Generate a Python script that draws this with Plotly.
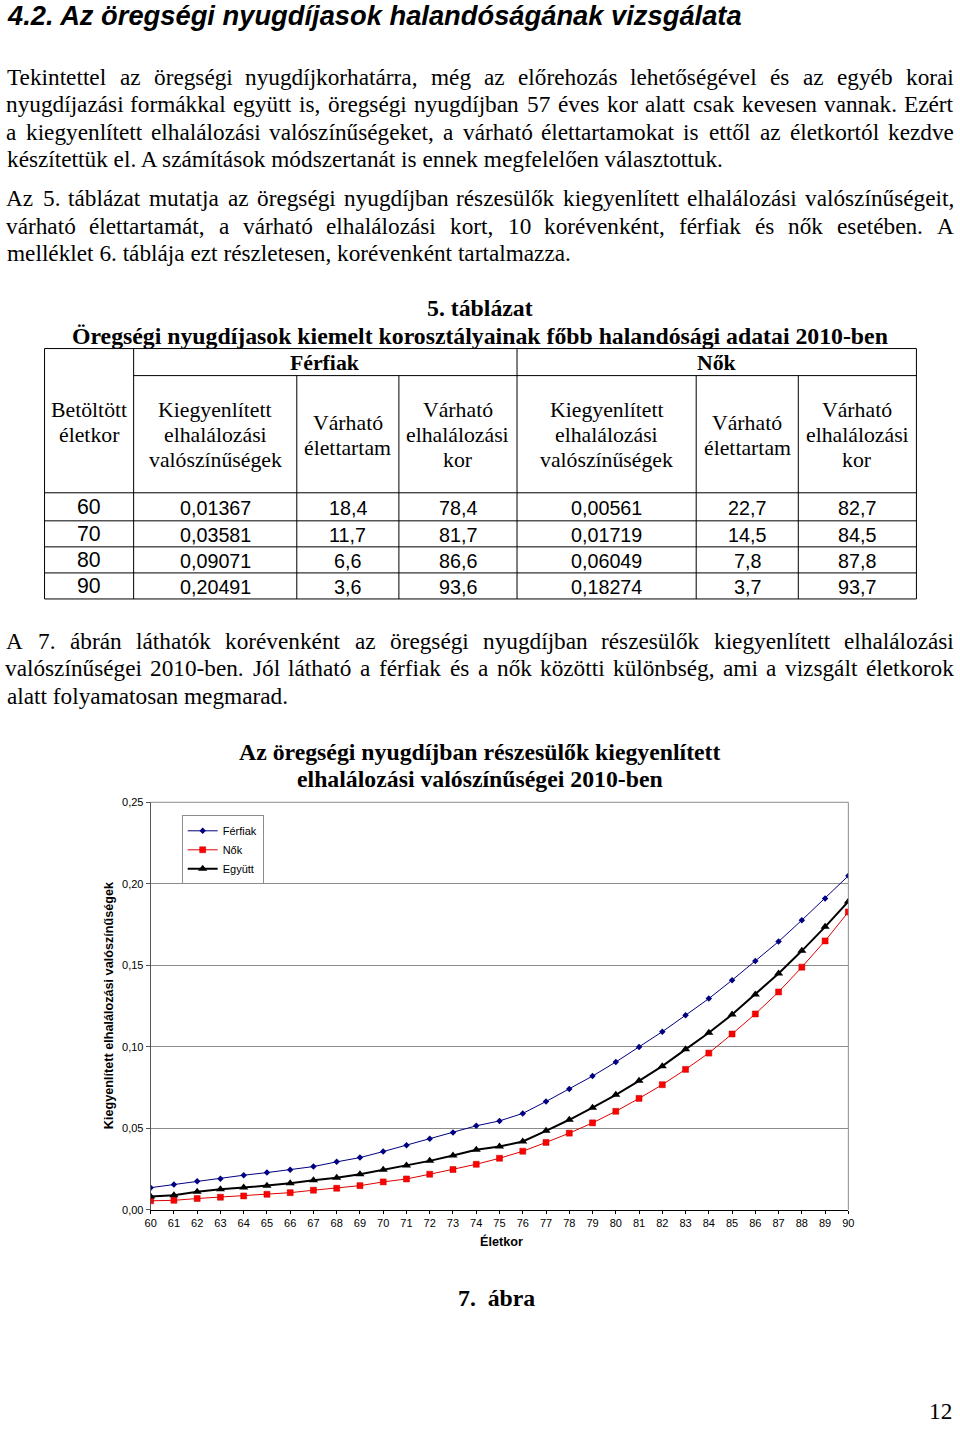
import unicodedata
import plotly.graph_objects as go

# ---------------- data ----------------
ages = [60, 61, 62, 63, 64, 65, 66, 67, 68, 69, 70, 71, 72, 73, 74, 75,
        76, 77, 78, 79, 80, 81, 82, 83, 84, 85, 86, 87, 88, 89, 90]
ferfiak = [0.01367, 0.0156, 0.0176, 0.0192, 0.0213, 0.0229, 0.0246, 0.0266, 0.0295, 0.0321,
           0.03581, 0.0397, 0.0436, 0.0475, 0.0516, 0.0546, 0.0592, 0.0665, 0.0741, 0.0821,
           0.09071, 0.0999, 0.1093, 0.1194, 0.1296, 0.1409, 0.1527, 0.1646, 0.1777, 0.1910,
           0.20491]
nok = [0.00561, 0.0059, 0.0070, 0.0078, 0.0086, 0.0096, 0.0106, 0.0121, 0.0133, 0.0149,
       0.01719, 0.0190, 0.0219, 0.0248, 0.0280, 0.0317, 0.0360, 0.0414, 0.0471, 0.0534,
       0.06049, 0.0684, 0.0768, 0.0862, 0.0962, 0.1079, 0.1202, 0.1337, 0.1489, 0.1650,
       0.18274]
egyutt = [0.0082, 0.0090, 0.0111, 0.0127, 0.0137, 0.0149, 0.0164, 0.0182, 0.0197, 0.0219,
          0.0246, 0.0272, 0.0301, 0.0334, 0.0369, 0.0389, 0.0420, 0.0485, 0.0553, 0.0627,
          0.0706, 0.0792, 0.0882, 0.0985, 0.1087, 0.1198, 0.1321, 0.1450, 0.1589, 0.1736,
          0.1892]
series_names = ["Férfiak", "Nők", "Együtt"]

table_ages = ["60", "70", "80", "90"]
ferfi_prob = ["0,01367", "0,03581", "0,09071", "0,20491"]
ferfi_elett = ["18,4", "11,7", "6,6", "3,6"]
ferfi_kor = ["78,4", "81,7", "86,6", "93,6"]
no_prob = ["0,00561", "0,01719", "0,06049", "0,18274"]
no_elett = ["22,7", "14,5", "7,8", "3,7"]
no_kor = ["82,7", "84,5", "87,8", "93,7"]
group_headers = ["Férfiak", "Nők"]
col_headers = [["Betöltött", "életkor"],
               ["Kiegyenlített", "elhalálozási", "valószínűségek"],
               ["Várható", "élettartam"],
               ["Várható", "elhalálozási", "kor"],
               ["Kiegyenlített", "elhalálozási", "valószínűségek"],
               ["Várható", "élettartam"],
               ["Várható", "elhalálozási", "kor"]]

heading = "4.2. Az öregségi nyugdíjasok halandóságának vizsgálata"
para1 = ["Tekintettel az öregségi nyugdíjkorhatárra, még az előrehozás lehetőségével és az egyéb korai",
         "nyugdíjazási formákkal együtt is, öregségi nyugdíjban 57 éves kor alatt csak kevesen vannak. Ezért",
         "a kiegyenlített elhalálozási valószínűségeket, a várható élettartamokat is ettől az életkortól kezdve",
         "készítettük el. A számítások módszertanát is ennek megfelelően választottuk."]
para2 = ["Az 5. táblázat mutatja az öregségi nyugdíjban részesülők kiegyenlített elhalálozási valószínűségeit,",
         "várható élettartamát, a várható elhalálozási kort, 10 korévenként, férfiak és nők esetében. A",
         "melléklet 6. táblája ezt részletesen, korévenként tartalmazza."]
para3 = ["A 7. ábrán láthatók korévenként az öregségi nyugdíjban részesülők kiegyenlített elhalálozási",
         "valószínűségei 2010-ben. Jól látható a férfiak és a nők közötti különbség, ami a vizsgált életkorok",
         "alatt folyamatosan megmarad."]
table_title = ["5. táblázat",
               "Öregségi nyugdíjasok kiemelt korosztályainak főbb halandósági adatai 2010-ben"]
chart_title = ["Az öregségi nyugdíjban részesülők kiegyenlített",
               "elhalálozási valószínűségei 2010-ben"]
y_title = "Kiegyenlített elhalálozási valószínűségek"
x_title = "Életkor"
figure_caption = "7.\u00a0\u00a0ábra"
page_number = "12"

# ---------------- page geometry ----------------
W, H = 960, 1429
# the photographed page shows up slightly inset; positions below are given in
# photo pixels and mapped back to page pixels
AX, SX = 6.5, 0.9865
AY, SY = 7.0, 0.990
FSC = 1 / 0.988
SERIF = "Liberation Serif, Times New Roman, serif"
SANS = "Liberation Sans, Arial, sans-serif"


def page_x(x):
    return min(max((x - AX) / SX, 0.0), W - 0.5)


def page_y(y):
    return min(max((y - AY) / SY, 0.0), H - 0.5)


def px(x):
    return page_x(x) / W


def py(y):
    return 1 - page_y(y) / H


TIMES = {' ': 250, ',': 250, '.': 250, '-': 333, ':': 278}
for d in "0123456789":
    TIMES[d] = 500
TIMES.update(dict(zip("abcdefghijklmnopqrstuvwxyz",
                      [444, 500, 444, 500, 444, 333, 500, 500, 278, 278, 500, 278, 778,
                       500, 500, 500, 500, 333, 389, 278, 500, 500, 722, 500, 500, 444])))
TIMES.update(dict(zip("ABCDEFGHIJKLMNOPQRSTUVWXYZ",
                      [722, 667, 667, 722, 611, 556, 722, 722, 333, 389, 722, 611, 889,
                       722, 722, 556, 722, 667, 556, 611, 722, 722, 944, 722, 722, 611])))


def tw(s, size):
    return sum(TIMES.get(unicodedata.normalize('NFD', c)[0], 500) for c in s) / 1000 * size


annotations = []
shapes = []


def add_text(text, x, y, size, family=SERIF, xanchor="center", bold=False, italic=False,
             angle=0):
    annotations.append(dict(
        text=text, x=px(x), y=py(y), xref="paper", yref="paper", showarrow=False,
        xanchor=xanchor, yanchor="middle", textangle=angle, borderpad=0,
        font=dict(family=family, size=size * FSC, color="black",
                  weight="bold" if bold else "normal",
                  style="italic" if italic else "normal")))


PSIZE = 23
X0, X1 = AX + 0.5 * SX, AX + (W - 0.5) * SX


def para_line(text, y, justify):
    if not justify:
        add_text(text, X0, y, PSIZE, xanchor="left")
        return
    words = text.split(" ")
    widths = [tw(w, PSIZE) for w in words]
    gap = (X1 - X0 - sum(widths)) / (len(words) - 1)
    x = X0
    for w, wd in zip(words, widths):
        add_text(w, x + wd / 2, y, PSIZE)
        x += wd + gap


def hline(x0, x1, y, color="black", width=1):
    shapes.append(dict(type="line", xref="paper", yref="paper", x0=px(x0), x1=px(x1),
                       y0=py(y), y1=py(y), line=dict(color=color, width=width)))


def vline(x, y0, y1, color="black", width=1):
    shapes.append(dict(type="line", xref="paper", yref="paper", x0=px(x), x1=px(x),
                       y0=py(y0), y1=py(y1), line=dict(color=color, width=width)))


# ---------------- page text ----------------
add_text(heading, X0, 16, 27.0, family=SANS, xanchor="left", bold=True, italic=True)

LS = 27.3
for i, t in enumerate(para1):
    para_line(t, 78 + i * LS, i < len(para1) - 1)
for i, t in enumerate(para2):
    para_line(t, 199 + i * LS, i < len(para2) - 1)
for i, t in enumerate(para3):
    para_line(t, 641 + i * LS, i < len(para3) - 1)

add_text(table_title[0], 480, 309, 23.5, bold=True)
add_text(table_title[1], 480, 336, 23.5, bold=True)

# ---------------- table ----------------
col_x = [45, 134, 297, 399, 517, 696, 798, 916]
row_y = [349, 376, 493, 521, 547, 573, 599]
hline(col_x[0], col_x[-1], row_y[0])
hline(col_x[1], col_x[-1], row_y[1])
for yy in row_y[2:]:
    hline(col_x[0], col_x[-1], yy)
vline(col_x[0], row_y[0], row_y[-1])
vline(col_x[1], row_y[0], row_y[-1])
vline(col_x[4], row_y[0], row_y[-1])
vline(col_x[-1], row_y[0], row_y[-1])
for c in (2, 3, 5, 6):
    vline(col_x[c], row_y[1], row_y[-1])

TSIZE = 21.5
add_text(group_headers[0], (col_x[1] + col_x[4]) / 2 - 0.5, 363, TSIZE, bold=True)
add_text(group_headers[1], (col_x[4] + col_x[7]) / 2, 363, TSIZE, bold=True)
hdr_mid = (row_y[1] + row_y[2]) / 2 + 1
for c, lines in enumerate(col_headers):
    cx = (col_x[c] + col_x[c + 1]) / 2
    n = len(lines)
    if c == 0:
        start = 410
    else:
        start = hdr_mid - (n - 1) * 25 / 2
    for k, ln in enumerate(lines):
        add_text(ln, cx, start + k * 25, TSIZE)

cols = [table_ages, ferfi_prob, ferfi_elett, ferfi_kor, no_prob, no_elett, no_kor]
for r in range(4):
    cy = (row_y[2 + r] + row_y[3 + r]) / 2 + 1
    for c, vals in enumerate(cols):
        cx = (col_x[c] + col_x[c + 1]) / 2
        if c == 0:
            add_text(vals[r], cx, cy - 1, TSIZE - 0.5, family=SANS)
        else:
            add_text(vals[r], cx, cy, 19.5, family=SANS)

# ---------------- chart ----------------
add_text(chart_title[0], 480, 752, 23.5, bold=True)
add_text(chart_title[1], 480, 779, 23.5, bold=True)
add_text(y_title, 109, 1005, 12.5, family=SANS, bold=True, angle=-90)
add_text(x_title, 501, 1241, 12.5, family=SANS, bold=True)
add_text(figure_caption, 497, 1297, 23.5, bold=True)
add_text(page_number, X1 - 1, 1410, 23, xanchor="right")

# right and top border of the plot frame
shapes.append(dict(type="line", xref="x domain", yref="y domain", x0=1, x1=1, y0=0, y1=1,
                   line=dict(color="#8c8c8c", width=1)))
shapes.append(dict(type="line", xref="x domain", yref="y domain", x0=0, x1=1, y0=1, y1=1,
                   line=dict(color="#8c8c8c", width=1)))

fig = go.Figure()
fig.add_trace(go.Scatter(x=ages, y=ferfiak, name=series_names[0], mode="lines+markers",
                         line=dict(color="#000080", width=1),
                         marker=dict(symbol="diamond", size=5, color="#000080")))
fig.add_trace(go.Scatter(x=ages, y=nok, name=series_names[1], mode="lines+markers",
                         line=dict(color="#e00000", width=1),
                         marker=dict(symbol="square", size=6, color="#ff0000",
                                     line=dict(color="#c00000", width=0.5))))
fig.add_trace(go.Scatter(x=ages, y=egyutt, name=series_names[2], mode="lines+markers",
                         line=dict(color="black", width=2),
                         marker=dict(symbol="triangle-up", size=8, color="black")))

fig.update_layout(
    width=W, height=H, autosize=False,
    margin=dict(l=0, r=0, t=0, b=0, pad=0),
    paper_bgcolor="white", plot_bgcolor="white",
    separators=", ",
    showlegend=True,
    legend=dict(x=px(182), y=py(815), xanchor="left", yanchor="top",
                bordercolor="#8c8c8c", borderwidth=1, bgcolor="white",
                font=dict(family=SANS, size=11, color="black"),
                itemwidth=30, tracegroupgap=0),
    annotations=annotations,
    shapes=shapes,
    xaxis=dict(domain=[px(151), px(848)], range=[60, 90], dtick=1, tick0=60,
               showgrid=False, zeroline=False, showline=True, linecolor="black",
               linewidth=1, ticks="outside", ticklen=3, tickcolor="black",
               tickfont=dict(family=SANS, size=11, color="black"), fixedrange=True),
    yaxis=dict(domain=[py(1209), py(802)], range=[0, 0.25], dtick=0.05, tick0=0,
               tickformat=".2f", showgrid=True, gridcolor="#8c8c8c", gridwidth=1,
               zeroline=False, showline=True, linecolor="#555555", linewidth=1,
               ticks="outside", ticklen=4, tickcolor="#555555",
               tickfont=dict(family=SANS, size=11, color="black"), fixedrange=True),
)

post = ("document.documentElement.style.margin='0';"
        "document.body.style.margin='0';document.body.style.padding='0';"
        "document.body.style.overflow='hidden';")

fig.write_html("out.html", config={"displayModeBar": False}, post_script=post)
